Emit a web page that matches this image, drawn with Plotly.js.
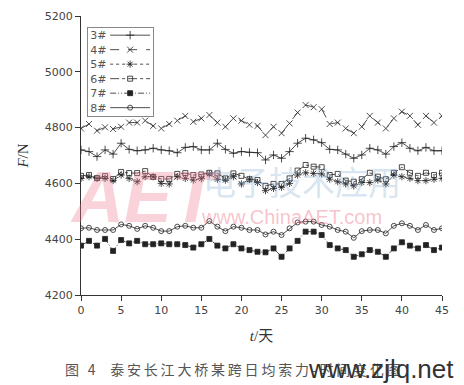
<!DOCTYPE html>
<html>
<head>
<meta charset="utf-8">
<script src="https://cdn.plot.ly/plotly-3.0.1.min.js"></script>
<style>html,body{margin:0;padding:0;background:#fff;}#chart{width:464px;height:385px;}</style>
</head>
<body>
<div id="chart"></div>
<script>
const days = [];
for (let d = 0; d <= 45; d++) days.push(d);

const seriesNames = ["3#", "4#", "5#", "6#", "7#", "8#"];

const s3 = [4720,4714,4696,4720,4705,4744,4722,4717,4720,4726,4720,4717,4710,4729,4732,4720,4720,4744,4722,4708,4714,4711,4710,4684,4702,4690,4714,4744,4762,4756,4746,4722,4720,4705,4690,4702,4726,4720,4705,4732,4746,4726,4717,4729,4717,4717];
const s4 = [4797,4813,4789,4801,4795,4803,4818,4818,4825,4806,4797,4813,4825,4842,4821,4833,4845,4818,4803,4833,4825,4810,4806,4773,4803,4780,4815,4854,4881,4873,4866,4813,4818,4797,4780,4803,4842,4818,4797,4833,4857,4842,4810,4842,4818,4842];
const s5 = [4618,4624,4618,4618,4610,4630,4618,4606,4624,4624,4600,4598,4624,4618,4612,4617,4634,4615,4612,4624,4598,4615,4603,4574,4582,4586,4600,4630,4638,4636,4634,4615,4606,4598,4591,4603,4603,4612,4598,4630,4624,4618,4610,4610,4615,4618];
const s6 = [4627,4630,4619,4626,4616,4641,4637,4637,4644,4623,4616,4616,4634,4637,4630,4632,4638,4636,4618,4636,4627,4615,4612,4591,4598,4598,4618,4646,4666,4660,4658,4630,4634,4610,4606,4615,4638,4624,4615,4638,4658,4638,4627,4638,4630,4638];
const s7 = [4377,4394,4377,4401,4358,4397,4385,4394,4382,4382,4385,4382,4382,4379,4370,4382,4401,4377,4367,4382,4367,4361,4355,4353,4367,4337,4367,4394,4427,4427,4415,4379,4367,4361,4337,4346,4361,4355,4337,4367,4389,4377,4367,4379,4361,4370];
const s8 = [4439,4441,4433,4433,4433,4453,4448,4437,4448,4441,4429,4429,4445,4448,4441,4441,4465,4445,4429,4445,4441,4433,4433,4417,4427,4415,4439,4460,4463,4463,4451,4445,4433,4427,4405,4429,4433,4433,4421,4448,4457,4448,4433,4451,4433,4439];

const yTicks = [4200, 4400, 4600, 4800, 5000, 5200];
const xTicks = [0, 5, 10, 15, 20, 25, 30, 35, 40, 45];

const values = [s3, s4, s5, s6, s7, s8];
const styles = [
  {dash: "solid", symbol: "cross-thin-open", size: 6},
  {dash: "dash", symbol: "x-thin-open", size: 6},
  {dash: "dot", symbol: "asterisk-open", size: 6},
  {dash: "dashdot", symbol: "square-open", size: 5},
  {dash: "6px,2px,1px,2px,1px,2px", symbol: "square", size: 5},
  {dash: "solid", symbol: "circle-open", size: 5}
];

const traces = values.map((v, i) => ({
  x: days,
  y: v,
  name: seriesNames[i],
  type: "scatter",
  mode: "lines+markers",
  line: {color: "#222", width: 0.8, dash: styles[i].dash},
  marker: {symbol: styles[i].symbol, size: styles[i].size, color: "#222", line: {color: "#222", width: 0.8}}
}));

const caption = "图 4  泰安长江大桥某跨日均索力-时间变化图".split("").join("\u2009");

const layout = {
  width: 464, height: 385,
  margin: {l: 81, r: 22, t: 16, b: 90},
  paper_bgcolor: "#fff", plot_bgcolor: "#fff",
  showlegend: true,
  legend: {
    x: 0.017, y: 0.96, xanchor: "left", yanchor: "top",
    bordercolor: "#888", borderwidth: 1, bgcolor: "#fff",
    font: {family: "DejaVu Sans", size: 11, color: "#555"},
    tracegroupgap: 0, itemwidth: 40
  },
  xaxis: {
    range: [0, 45], tickvals: xTicks, ticktext: xTicks.map(String),
    showgrid: false, zeroline: false, showline: true, linecolor: "#333", linewidth: 1,
    ticks: "outside", ticklen: 5, tickcolor: "#333",
    tickfont: {family: "DejaVu Sans", size: 11, color: "#444"},
    title: {text: "<i>t</i>/天", font: {family: "Liberation Serif, Noto Sans CJK SC", size: 15, color: "#333"}, standoff: 14}
  },
  yaxis: {
    range: [4200, 5200], tickvals: yTicks, ticktext: yTicks.map(String),
    showgrid: false, zeroline: false, showline: true, linecolor: "#333", linewidth: 1,
    ticks: "outside", ticklen: 5, tickcolor: "#333",
    tickfont: {family: "DejaVu Sans", size: 11, color: "#444"},
    title: {text: "<i>F</i>/N", font: {family: "Liberation Serif", size: 15, color: "#333"}, standoff: 12}
  },
  annotations: [
    {xref: "paper", yref: "paper", x: 0.18, y: 0.35, xanchor: "center", yanchor: "middle",
     text: "<b><i>AET</i></b>", showarrow: false,
     font: {family: "Liberation Sans", size: 72, color: "rgba(238,120,140,0.33)"}},
    {xref: "paper", yref: "paper", x: 0.612, y: 0.41, xanchor: "center", yanchor: "middle",
     text: "电子技术应用", showarrow: false,
     font: {family: "Noto Sans CJK SC", size: 33, color: "rgba(120,165,205,0.3)"}},
    {xref: "paper", yref: "paper", x: 0.582, y: 0.28, xanchor: "center", yanchor: "middle",
     text: "www.ChinaAET.com", showarrow: false,
     font: {family: "Liberation Sans", size: 20, color: "rgba(238,120,140,0.45)"}},
    {xref: "paper", yref: "paper", x: 0.42, y: -0.265, xanchor: "center", yanchor: "middle",
     text: caption, showarrow: false,
     font: {family: "Noto Sans CJK SC", size: 14, color: "#555"}},
    {xref: "paper", yref: "paper", x: 1.04, y: -0.265, xanchor: "right", yanchor: "middle",
     text: "www.zjlq.net", showarrow: false,
     font: {family: "Liberation Sans", size: 26, color: "#333"}}
  ]
};

Plotly.newPlot("chart", traces, layout, {displayModeBar: false, staticPlot: true}).then(() => {
  const leg = document.querySelector(".legend");
  if (!leg) return;
  const items = leg.querySelectorAll(".traces");
  const step = 14.5;
  const first = 8;
  items.forEach((g, i) => {
    g.setAttribute("transform", "translate(0," + (first + i * step) + ")");
    const t = g.querySelector(".legendtext");
    if (t) { t.setAttribute("x", 3); t.setAttribute("text-anchor", "start"); }
    const layers = g.querySelector(".layers");
    if (layers) layers.setAttribute("transform", "translate(18,0)");
  });
  const bg = leg.querySelector(".bg");
  if (bg) { bg.setAttribute("width", 66); bg.setAttribute("height", first + 5 * step + 8); }
});
</script>
</body>
</html>
